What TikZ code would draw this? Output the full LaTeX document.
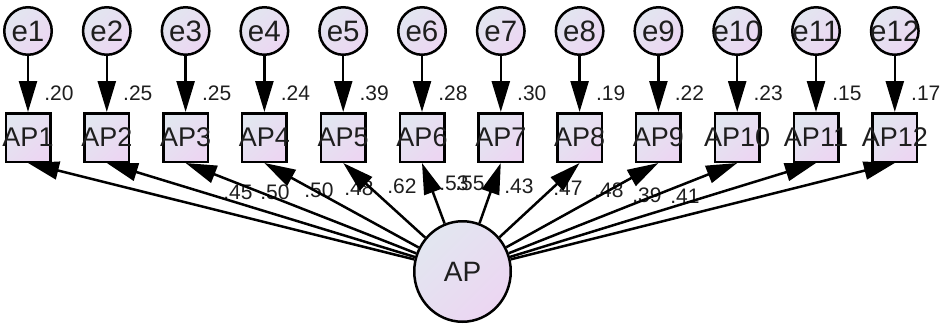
\documentclass[tikz,border=0pt]{standalone}
\usepackage{fontspec}
\setmainfont{Liberation Sans}
\usetikzlibrary{arrows.meta,shapes.geometric}
\definecolor{gA}{RGB}{226,230,240}
\definecolor{gB}{RGB}{236,214,242}
\definecolor{txt}{RGB}{30,30,30}
\begin{document}
\begin{tikzpicture}[x=1pt,y=-1pt,
  fillgrad/.style={top color=gA, bottom color=gB, shading angle=45},
  errnode/.style={circle, draw, line width=2.5pt, fillgrad, minimum size=47.5pt, inner sep=0pt, text=txt, font=\fontsize{29.5}{30}\selectfont},
  obsnode/.style={rectangle, draw, line width=2.5pt, fillgrad, minimum width=44.5pt, minimum height=48.5pt, inner sep=0pt, text=txt, font=\fontsize{27}{30}\selectfont},
  latnode/.style={ellipse, draw, line width=2.5pt, fillgrad, minimum width=96.5pt, minimum height=100.5pt, inner sep=0pt, text=txt, font=\fontsize{28}{30}\selectfont},
  arr/.style={line width=2.5pt, -{Triangle[length=31pt,width=18pt]}},
  coef/.style={inner sep=0pt, text=txt, font=\fontsize{21}{24}\selectfont}
]
\useasboundingbox (0,0) rectangle (943,325);
\foreach \i in {1,...,12} {
  \pgfmathsetmacro\cx{28+78.8*(\i-1)}
  \node[obsnode] (b\i) at (\cx,137.5) {\makebox[0pt]{AP\i}};
  \node[errnode] (e\i) at (\cx,31) {\makebox[0pt]{e\i}};
}
\node[latnode] (AP) at (462.5,271.5) {AP};
\foreach \i/\v in {1/.20,2/.25,3/.25,4/.24,5/.39,6/.28,7/.30,8/.19,9/.22,10/.23,11/.15,12/.17} {
  \path (e\i) ++(31,62) node[coef] (r\i) {\v};
}
\foreach \i/\v/\x/\y in {1/.45/238/192,2/.50/275/192,3/.50/319/190,4/.48/359/188,5/.62/402/186,6/.53/454/183,7/.55/470/183,8/.43/519/186,9/.47/568/188,10/.48/609/190,11/.39/647/195,12/.41/685/196} {
  \node[coef] (l\i) at (\x,\y) {\v};
}
\foreach \i in {1,...,12} {
  \draw[arr] (e\i) -- (b\i);
  \draw[arr] (AP) -- (b\i.south);
}
\end{tikzpicture}
\end{document}
